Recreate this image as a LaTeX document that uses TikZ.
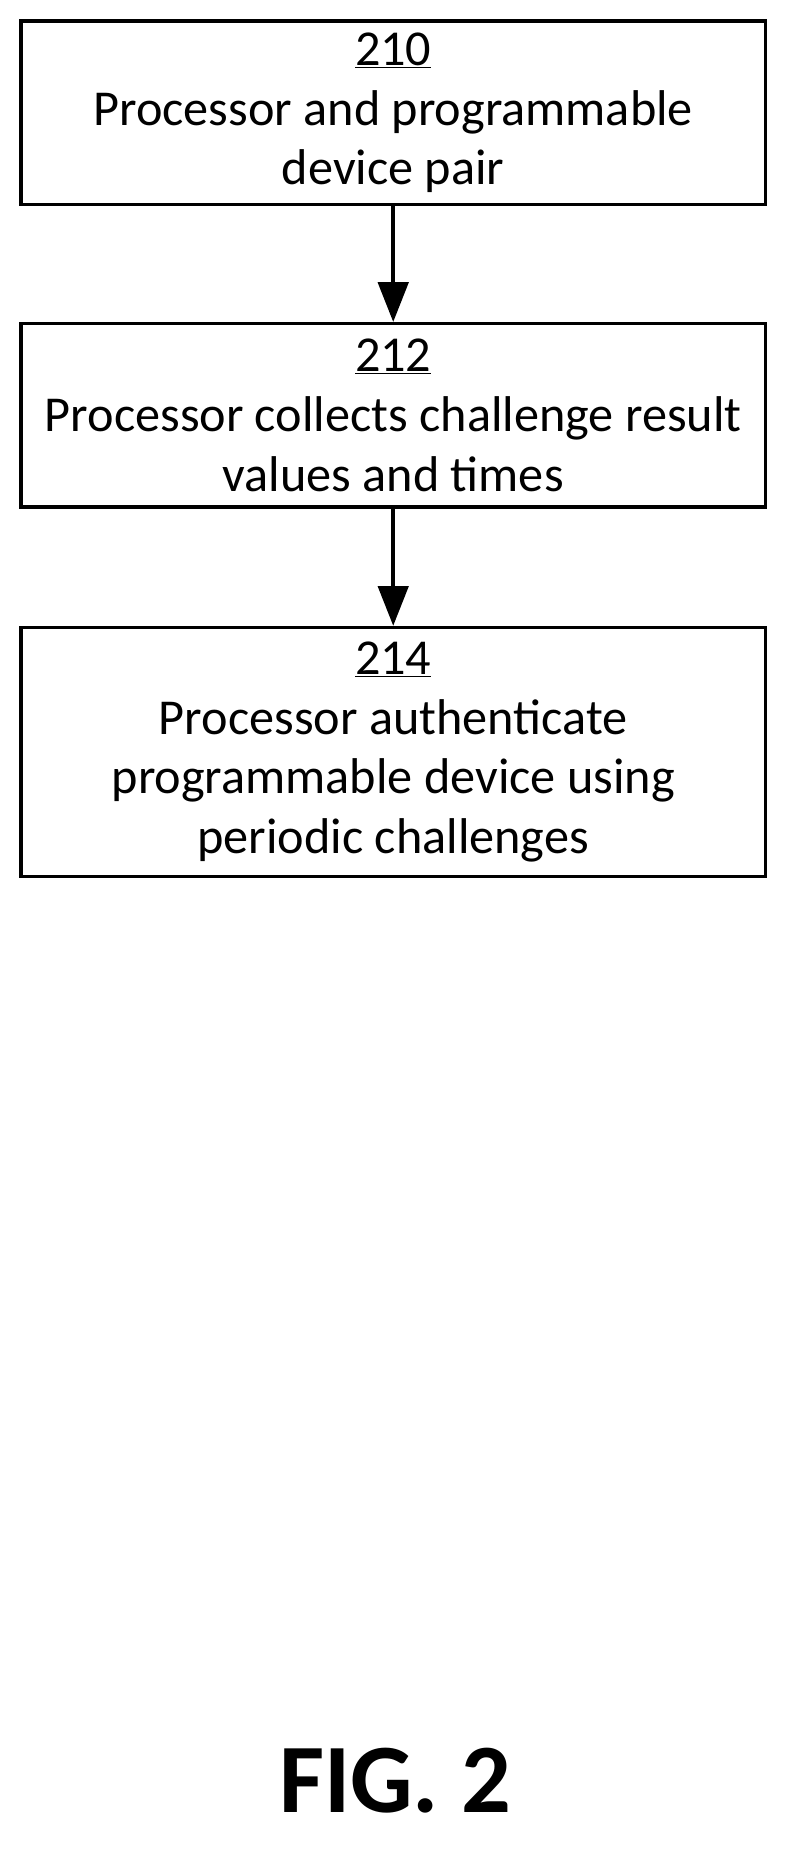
\documentclass[tikz,border=0pt]{standalone}
\usepackage{fontspec}
\setmainfont{Carlito}
\usetikzlibrary{arrows.meta}
\begin{document}
\begin{tikzpicture}[x=1pt,y=-1pt,
  box/.style={draw,line width=3pt,minimum width=637pt,align=center,font=\fontsize{43}{51}\selectfont,inner sep=0pt},
  arr/.style={line width=3pt,-{Triangle[length=34pt,width=26pt]}}]
\useasboundingbox (0,0) rectangle (680,1584);
\node[box,minimum height=157pt] (a) at (336.5,96.5) {\underline{210}\\Processor and programmable\\device pair};
\node[box,minimum height=157pt] (b) at (336.5,355.5) {\underline{212}\\Processor collects challenge result\\values and times};
\node[box,minimum height=213pt] (c) at (336.5,643.5) {\underline{214}\\Processor authenticate\\programmable device using\\periodic challenges};
\draw[arr] (a.south) -- (b.north);
\draw[arr] (b.south) -- (c.north);
\node[font=\fontsize{84}{90}\selectfont\bfseries] (f) at (338,1524) {FIG. 2};
\end{tikzpicture}
\end{document}
